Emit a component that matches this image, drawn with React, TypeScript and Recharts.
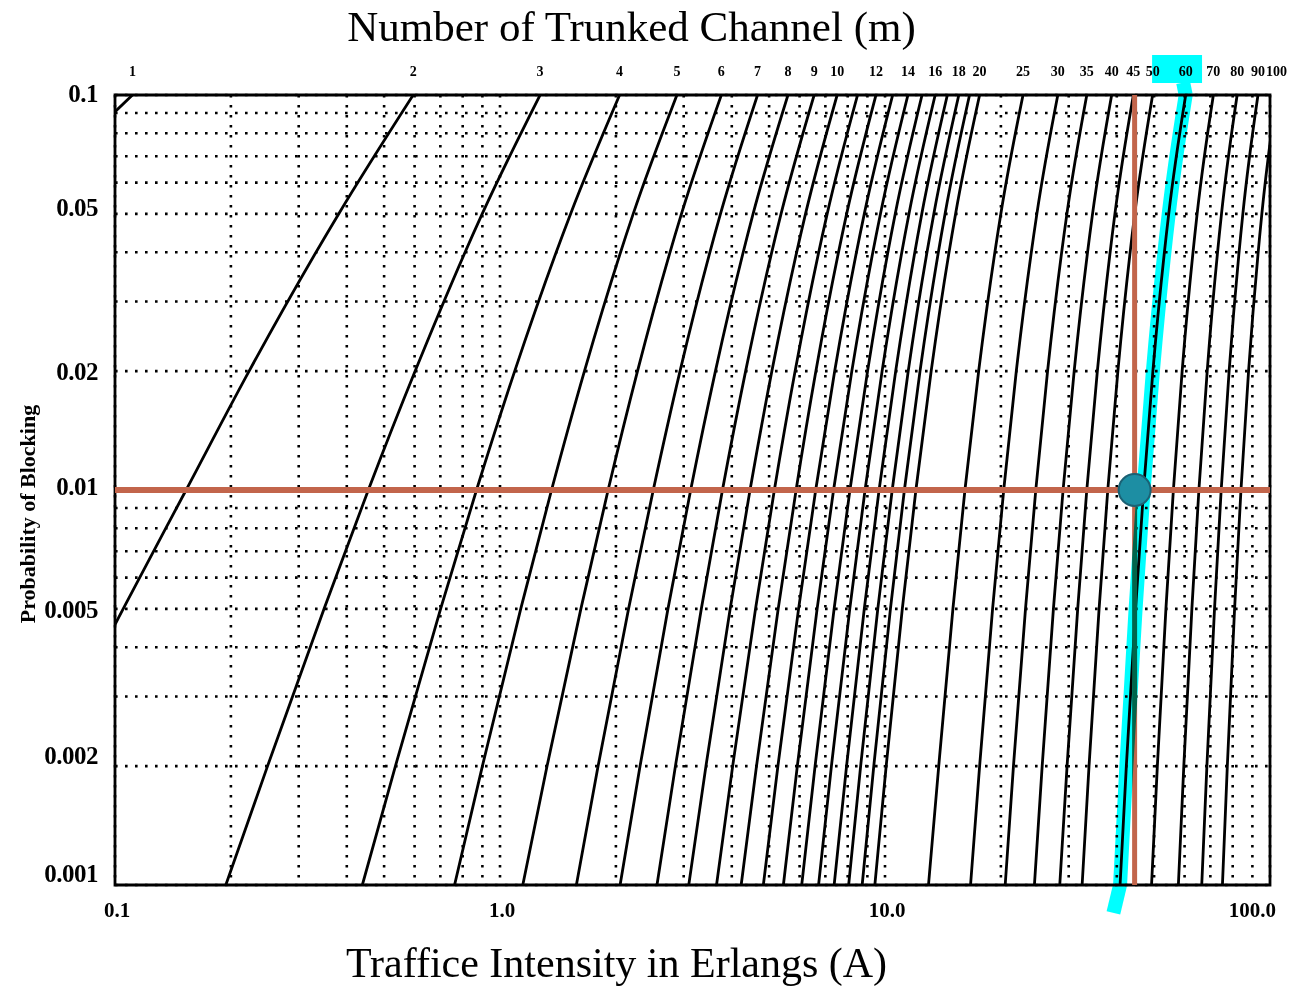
import {
  LineChart,
  Line,
  XAxis,
  YAxis,
  CartesianGrid,
  ReferenceLine,
  ReferenceArea,
  ReferenceDot,
} from "recharts";

// number of trunked channels, one curve each
const channels = [1, 2, 3, 4, 5, 6, 7, 8, 9, 10, 11, 12, 13, 14, 15, 16, 17, 18, 19, 20, 25, 30, 35, 40, 45, 50, 60, 70, 80, 90, 100];
const blockingLevels = [0.001, 0.002, 0.005, 0.01, 0.02, 0.05, 0.1];

// traffic (Erlangs) where each curve crosses a blocking level
const trafficAt01 = [0.001, 0.046, 0.194, 0.439, 0.762, 1.146, 1.579, 2.051, 2.557, 3.092, 3.651, 4.231, 4.831, 5.446, 6.077, 6.721, 7.378, 8.046, 8.724, 9.411, 12.97, 16.68, 20.52, 24.44, 28.44, 32.51, 40.79, 49.24, 57.81, 66.48, 75.24];
const trafficAt02 = [0.002, 0.065, 0.249, 0.535, 0.9, 1.325, 1.798, 2.311, 2.855, 3.427, 4.021, 4.637, 5.27, 5.919, 6.582, 7.258, 7.946, 8.644, 9.351, 10.07, 13.79, 17.61, 21.56, 25.6, 29.71, 33.88, 42.35, 50.98, 59.72, 68.56, 77.47];
const trafficAt05 = [0.005, 0.105, 0.349, 0.701, 1.132, 1.622, 2.157, 2.73, 3.333, 3.961, 4.61, 5.279, 5.964, 6.663, 7.376, 8.1, 8.834, 9.578, 10.33, 11.09, 15.01, 19.03, 23.17, 27.38, 31.66, 35.98, 44.76, 53.66, 62.67, 71.76, 80.91];
const trafficAt1 = [0.01, 0.153, 0.455, 0.869, 1.361, 1.909, 2.501, 3.128, 3.783, 4.461, 5.16, 5.876, 6.607, 7.352, 8.108, 8.875, 9.652, 10.44, 11.23, 12.03, 16.13, 20.34, 24.64, 29.01, 33.43, 37.9, 46.95, 56.11, 65.36, 74.68, 84.06];
const trafficAt2 = [0.02, 0.223, 0.602, 1.092, 1.657, 2.276, 2.935, 3.627, 4.345, 5.084, 5.842, 6.615, 7.402, 8.2, 9.01, 9.828, 10.66, 11.49, 12.33, 13.18, 17.51, 21.93, 26.44, 31.0, 35.61, 40.26, 49.64, 59.13, 68.69, 78.31, 87.97];
const trafficAt5 = [0.053, 0.381, 0.899, 1.525, 2.218, 2.96, 3.738, 4.543, 5.37, 6.216, 7.076, 7.95, 8.835, 9.73, 10.63, 11.54, 12.46, 13.39, 14.32, 15.25, 19.99, 24.8, 29.68, 34.6, 39.55, 44.53, 54.57, 64.67, 74.82, 85.01, 95.24];
const trafficAt10 = [0.111, 0.595, 1.271, 2.045, 2.881, 3.758, 4.666, 5.597, 6.546, 7.511, 8.487, 9.474, 10.47, 11.47, 12.48, 13.5, 14.52, 15.55, 16.58, 17.61, 22.83, 28.11, 33.43, 38.79, 44.17, 49.56, 60.4, 71.27, 82.16, 93.06, 103.97];

const unlabeledChannels = [11, 13, 15, 17, 19];

const xTicks = [0.1, 0.2, 0.3, 0.4, 0.5, 0.6, 0.7, 0.8, 0.9, 1, 2, 3, 4, 5, 6, 7, 8, 9, 10, 20, 30, 40, 50, 60, 70, 80, 90, 100];
const xTickLabels: Record<string, string> = { "0.1": "0.1", "1": "1.0", "10": "10.0", "100": "100.0" };
const yTicks = [0.001, 0.002, 0.003, 0.004, 0.005, 0.006, 0.007, 0.008, 0.009, 0.01, 0.02, 0.03, 0.04, 0.05, 0.06, 0.07, 0.08, 0.09, 0.1];
const yTickLabels = [0.001, 0.002, 0.005, 0.01, 0.02, 0.05, 0.1];

const highlightChannel = 60;
const designTraffic = 44.5;
const designBlocking = 0.01;

const SERIF = "'Liberation Serif', 'DejaVu Serif', serif";
const RED = "#c2654b";
const CYAN = "#00ffff";

const levels = [trafficAt01, trafficAt02, trafficAt05, trafficAt1, trafficAt2, trafficAt5, trafficAt10];
const curves = channels.map((m, i) => ({
  m,
  points: blockingLevels.map((b, j) => ({ a: levels[j][i], b })),
}));
const highlight = curves.find((c) => c.m === highlightChannel)!;
const labeled = curves.filter((c) => !unlabeledChannels.includes(c.m));
const topTicks = labeled.map((c) => c.points[c.points.length - 1].a);
const topTickText = new Map(labeled.map((c) => [c.points[c.points.length - 1].a, String(c.m)]));

// nudges the scanned labels sat at
const yLabelNudge: Record<string, number> = { "0.1": -2, "0.05": -7, "0.01": -4, "0.002": -11, "0.001": -12 };

const BottomTick = ({ x, y, payload }: any) => {
  const label = xTickLabels[String(payload.value)];
  if (!label) return <g />;
  const atEnd = payload.value === 100;
  return (
    <text x={atEnd ? x + 6 : x + 2} y={y} dy="0.71em" textAnchor={atEnd ? "end" : "middle"}
      fontFamily={SERIF} fontWeight={700} fontSize={21} fill="#000">
      {label}
    </text>
  );
};

const LeftTick = ({ x, y, payload }: any) => {
  if (!yTickLabels.includes(payload.value)) return <g />;
  const key = String(payload.value);
  return (
    <text x={x} y={y + (yLabelNudge[key] ?? 0)} dy="0.35em" textAnchor="end"
      fontFamily={SERIF} fontWeight={700} fontSize={25} fill="#000" letterSpacing={-0.5}>
      {key}
    </text>
  );
};

const YTitle = ({ viewBox }: any) => {
  const cx = viewBox.x + 35;
  const cy = viewBox.y + viewBox.height / 2 + 24;
  return (
    <text transform={`translate(${cx},${cy}) rotate(-90)`} textAnchor="middle"
      fontFamily={SERIF} fontWeight={700} fontSize={22} fill="#000">
      Probability of Blocking
    </text>
  );
};

export default function App() {
  return (
    <div style={{ position: "absolute", left: 0, top: 0, background: "#fff" }}>
      <style>{`.blend-cyan { mix-blend-mode: multiply; }`}</style>
      <LineChart width={1293} height={990} margin={{ top: 0, right: 23, bottom: 0, left: 0 }}>
        <CartesianGrid stroke="#000" strokeWidth={2.6} strokeDasharray="2.6 7.4" />
        <XAxis
          dataKey="a"
          type="number"
          scale="log"
          domain={[0.1, 100]}
          allowDataOverflow
          ticks={xTicks}
          interval={0}
          height={105}
          axisLine={false}
          tickLine={false}
          tickSize={0}
          tickMargin={17}
          tick={<BottomTick />}
          label={{
            value: "Traffice Intensity in Erlangs (A)",
            position: "insideBottom",
            offset: 13,
            dx: -76,
            fontSize: 42,
            fontFamily: SERIF,
            fill: "#000",
          }}
        />
        <XAxis
          xAxisId="top"
          orientation="top"
          dataKey="a"
          type="number"
          scale="log"
          domain={[0.1, 100]}
          allowDataOverflow
          ticks={topTicks}
          interval={0}
          height={95}
          axisLine={false}
          tickLine={false}
          tickSize={0}
          tickMargin={19}
          tickFormatter={(v: number) => topTickText.get(v) ?? ""}
          tick={{ fontSize: 14, fontWeight: 700, fontFamily: SERIF, fill: "#000" }}
          label={{
            value: "Number of Trunked Channel (m)",
            position: "insideTop",
            offset: 10,
            dx: -61,
            fontSize: 43,
            fontFamily: SERIF,
            fill: "#000",
          }}
        />
        <YAxis
          type="number"
          scale="log"
          domain={[0.001, 0.1]}
          allowDataOverflow
          ticks={yTicks}
          interval={0}
          width={115}
          axisLine={false}
          tickLine={false}
          tickSize={0}
          tickMargin={17}
          tick={<LeftTick />}
          label={<YTitle />}
        />

        {curves.map((c) => (
          <Line
            key={c.m}
            data={c.points}
            dataKey="b"
            type="monotone"
            stroke="#000"
            strokeWidth={2.8}
            dot={false}
            activeDot={false}
            isAnimationActive={false}
          />
        ))}

        <ReferenceLine y={designBlocking} stroke={RED} strokeWidth={6} />
        <ReferenceLine x={designTraffic} stroke={RED} strokeWidth={5} />

        <Line
          data={highlight.points}
          dataKey="b"
          type="monotone"
          stroke={CYAN}
          strokeWidth={14}
          dot={false}
          activeDot={false}
          className="blend-cyan"
          isAnimationActive={false}
        />
        <ReferenceLine
          segment={[{ x: highlight.points[0].a, y: 0.001 }, { x: 39.2, y: 0.00085 }]}
          stroke={CYAN}
          strokeWidth={14}
          ifOverflow="visible"
          className="blend-cyan"
        />
        <ReferenceLine
          segment={[{ x: highlight.points[6].a, y: 0.1 }, { x: 59.5, y: 0.1075 }]}
          stroke={CYAN}
          strokeWidth={14}
          ifOverflow="visible"
          className="blend-cyan"
        />
        <ReferenceArea x1={49.4} x2={66.6} y1={0.1072} y2={0.1263} fill={CYAN} fillOpacity={1} ifOverflow="visible" className="blend-cyan" />

        <ReferenceArea x1={0.1} x2={100} y1={0.001} y2={0.1} fill="none" stroke="#000" strokeWidth={2.8} />
        <ReferenceDot x={designTraffic} y={designBlocking} r={16} fill="#1d8ea3" stroke="#1b6174" strokeWidth={2} />
      </LineChart>
    </div>
  );
}
